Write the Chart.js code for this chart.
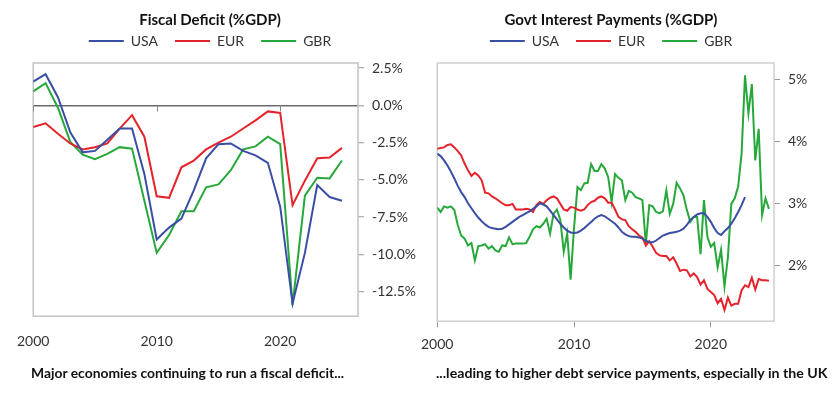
<!DOCTYPE html>
<html>
<head>
<meta charset="utf-8">
<script src="https://cdn.jsdelivr.net/npm/chart.js@4.4.1/dist/chart.umd.min.js"></script>
<style>
    body { margin: 0; background: #fff; }
    #wrap { position: relative; width: 840px; height: 394px; overflow: hidden; }
    .panel { position: absolute; top: 0; }
    .caption {
        position: absolute; top: 364px; white-space: nowrap;
        font-family: Lato, sans-serif; font-weight: bold; font-size: 14px; line-height: 17px;
        color: #111; transform-origin: left center;
    }
</style>
</head>
<body>
<div id="wrap">
    <canvas id="deficitChart" class="panel" style="left:0" width="420" height="367"></canvas>
    <canvas id="interestChart" class="panel" style="left:412px" width="398" height="362"></canvas>
    <div class="caption" style="left:31px" data-width="313">Major economies continuing to run a fiscal deficit...</div>
    <div class="caption" style="left:436px" data-width="392">...leading to higher debt service payments, especially in the UK</div>
</div>
<script>
    // fiscal deficit, annual
    const years = [2000, 2001, 2002, 2003, 2004, 2005, 2006, 2007, 2008, 2009, 2010, 2011, 2012,
        2013, 2014, 2015, 2016, 2017, 2018, 2019, 2020, 2021, 2022, 2023, 2024, 2025];
    const usaDeficit = [1.6, 2.1, 0.55, -1.8, -3.15, -3.05, -2.3, -1.55, -1.55, -4.6, -9.0, -8.2, -7.6,
        -5.7, -3.55, -2.6, -2.55, -3.05, -3.35, -3.85, -6.8, -13.3, -9.9, -5.35, -6.15, -6.4];
    const eurDeficit = [-1.45, -1.2, -1.9, -2.55, -2.95, -2.8, -2.55, -1.55, -0.65, -2.1, -6.1, -6.2, -4.15,
        -3.7, -2.95, -2.5, -2.1, -1.55, -1.0, -0.4, -0.5, -6.7, -5.05, -3.55, -3.5, -2.85];
    const gbrDeficit = [0.95, 1.5, -0.15, -2.45, -3.3, -3.6, -3.25, -2.8, -2.9, -6.4, -9.9, -8.7, -7.1,
        -7.1, -5.5, -5.3, -4.35, -2.95, -2.75, -2.1, -2.6, -13.4, -6.05, -4.85, -4.9, -3.7];

    // interest payments, quarterly from 2000 Q1
    const quarters = Array.from({ length: 98 }, (_, i) => 2000 + i / 4);
    const usaInterest = [
        3.80, 3.76, 3.69, 3.61, 3.51, 3.40, 3.28, 3.18, 3.10, 3.00, 2.92, 2.84,
        2.77, 2.71, 2.66, 2.62, 2.60, 2.59, 2.58, 2.59, 2.62, 2.66, 2.70, 2.74,
        2.78, 2.81, 2.84, 2.87, 2.91, 2.95, 3.00, 2.98, 2.95, 2.88, 2.81, 2.74,
        2.67, 2.61, 2.56, 2.53, 2.52, 2.53, 2.56, 2.60, 2.65, 2.70, 2.75, 2.79,
        2.81, 2.79, 2.75, 2.71, 2.67, 2.61, 2.54, 2.50, 2.47, 2.46, 2.46, 2.45,
        2.43, 2.40, 2.37, 2.37, 2.40, 2.44, 2.48, 2.50, 2.52, 2.53, 2.54, 2.56,
        2.59, 2.65, 2.73, 2.78, 2.82, 2.84, 2.84, 2.78, 2.70, 2.60, 2.52, 2.49,
        2.55, 2.60, 2.67, 2.76, 2.86, 2.97, 3.10, null,
        null, null, null, null, null, null];
    const eurInterest = [
        3.88, 3.89, 3.90, 3.94, 3.95, 3.90, 3.84, 3.77, 3.64, 3.53, 3.44, 3.49,
        3.45, 3.37, 3.17, 3.16, 3.11, 3.08, 3.04, 3.00, 2.97, 2.97, 2.99, 2.90,
        2.90, 2.90, 2.91, 2.90, 2.86, 2.97, 3.02, 2.99, 3.05, 3.09, 3.11, 3.08,
        2.99, 2.90, 2.88, 2.94, 2.93, 2.90, 2.88, 2.90, 2.97, 3.02, 3.04, 3.09,
        3.11, 3.08, 3.01, 3.01, 2.90, 2.78, 2.74, 2.73, 2.63, 2.58, 2.54, 2.48,
        2.45, 2.32, 2.39, 2.30, 2.20, 2.16, 2.15, 2.15, 2.08, 2.13, 2.03, 1.91,
        1.93, 1.92, 1.82, 1.87, 1.81, 1.69, 1.76, 1.62, 1.57, 1.52, 1.39, 1.46,
        1.28, 1.48, 1.35, 1.38, 1.38, 1.60, 1.68, 1.65, 1.80, 1.61, 1.78, 1.76,
        1.76, 1.75];
    const gbrInterest = [
        2.93, 2.86, 2.95, 2.93, 2.95, 2.89, 2.65, 2.48, 2.43, 2.32, 2.36, 2.08,
        2.31, 2.32, 2.34, 2.27, 2.31, 2.24, 2.22, 2.32, 2.31, 2.45, 2.34, 2.35,
        2.35, 2.35, 2.36, 2.46, 2.58, 2.63, 2.61, 2.67, 2.75, 2.51, 2.83, 2.90,
        2.73, 2.22, 2.51, 1.77, 2.60, 3.26, 3.21, 3.32, 3.33, 3.63, 3.52, 3.52,
        3.63, 3.56, 3.42, 3.02, 3.47, 3.41, 3.37, 3.05, 3.20, 3.17, 3.10, 3.08,
        3.05, 2.34, 2.97, 2.95, 2.86, 2.84, 2.87, 3.21, 2.83, 2.99, 3.33, 3.24,
        3.13, 2.89, 2.70, 2.78, 2.78, 2.18, 3.05, 2.46, 2.30, 2.36, 1.97, 2.25,
        1.66, 2.13, 2.99, 3.08, 3.27, 3.80, 5.06, 4.45, 4.92, 3.69, 4.20, 2.81,
        3.08, 2.91];

    const yearTicks = [2000, 2010, 2020];
    const deficitTicks = [2.5, 0, -2.5, -5, -7.5, -10, -12.5];
    const interestTicks = [2, 3, 4, 5];
    const seriesNames = ['USA', 'EUR', 'GBR'];
    const seriesColors = ['#3a4ea5', '#e5232b', '#27a83b'];

    const tickFont = { family: 'Lato', size: 14 };

    function points(xs, ys) {
        return ys.map((y, i) => ({ x: xs[i], y: y }));
    }

    function makeDatasets(xs, lists) {
        return lists.map((ys, i) => ({
            label: seriesNames[i],
            data: points(xs, ys),
            borderColor: seriesColors[i],
            backgroundColor: seriesColors[i],
            borderWidth: 2,
            pointRadius: 0,
            tension: 0,
            spanGaps: false
        }));
    }

    // frame round the plot area
    const plotBox = {
        id: 'plotBox',
        beforeDatasetsDraw(chart, args, opts) {
            const { ctx, chartArea: a } = chart;
            ctx.save();
            ctx.strokeStyle = opts.color;
            ctx.lineWidth = opts.width;
            ctx.strokeRect(a.left, a.top, a.right - a.left, a.bottom - a.top);
            ctx.restore();
        }
    };

    // little year ticks hanging from the zero line (deficit chart)
    const zeroTicks = {
        id: 'zeroTicks',
        beforeDatasetsDraw(chart) {
            const { ctx, scales: { x, y } } = chart;
            const y0 = y.getPixelForValue(0);
            ctx.save();
            ctx.strokeStyle = '#8a8a8a';
            ctx.lineWidth = 1;
            yearTicks.forEach(v => {
                const px = Math.round(x.getPixelForValue(v)) + 0.5;
                ctx.beginPath();
                ctx.moveTo(px, y0);
                ctx.lineTo(px, y0 + 6);
                ctx.stroke();
            });
            ctx.restore();
        }
    };

    // a bit more room between legend and plot
    const legendGap = {
        id: 'legendGap',
        beforeInit(chart) {
            const fit = chart.legend.fit;
            chart.legend.fit = function () {
                fit.call(this);
                this.height += 5;
            };
        }
    };

    function commonPlugins(title, boxColor) {
        return {
            title: {
                display: true,
                text: title,
                color: '#111',
                font: { family: 'Lato', size: 15, weight: 'bold' },
                padding: { top: 11, bottom: -12 }
            },
            legend: {
                labels: {
                    usePointStyle: true,
                    pointStyle: 'line',
                    pointStyleWidth: 35,
                    color: '#333',
                    font: tickFont,
                    padding: 17
                }
            },
            tooltip: { enabled: false },
            plotBox: { color: boxColor, width: 1.5 }
        };
    }

    new Chart(document.getElementById('deficitChart'), {
        type: 'line',
        data: { datasets: makeDatasets(years, [usaDeficit, eurDeficit, gbrDeficit]) },
        plugins: [plotBox, zeroTicks, legendGap],
        options: {
            responsive: false,
            animation: false,
            plugins: commonPlugins('Fiscal Deficit (%GDP)', '#c4c4c4'),
            scales: {
                x: {
                    type: 'linear', min: 2000, max: 2026.3,
                    afterBuildTicks: s => { s.ticks = yearTicks.map(v => ({ value: v })); },
                    ticks: { font: tickFont, color: '#333', padding: 17, maxRotation: 0, callback: v => String(v) },
                    grid: { display: false, drawTicks: false },
                    border: { display: false }
                },
                y: {
                    position: 'right', min: -14.15, max: 2.85,
                    afterBuildTicks: s => { s.ticks = deficitTicks.map(v => ({ value: v })); },
                    afterFit: s => { s.width = 62; },
                    ticks: { font: tickFont, color: '#333', padding: 8, callback: v => v.toFixed(1) + '%' },
                    grid: {
                        color: c => (c.tick && c.tick.value === 0) ? '#6a6a6a' : 'rgba(0,0,0,0)',
                        lineWidth: 1.5,
                        tickColor: '#999', tickLength: 6, tickWidth: 1
                    },
                    border: { display: false }
                }
            }
        }
    });

    new Chart(document.getElementById('interestChart'), {
        type: 'line',
        data: { datasets: makeDatasets(quarters, [usaInterest, eurInterest, gbrInterest]) },
        plugins: [plotBox, legendGap],
        options: {
            responsive: false,
            animation: false,
            plugins: commonPlugins('Govt Interest Payments (%GDP)', '#cfcfcf'),
            scales: {
                x: {
                    type: 'linear', min: 2000, max: 2024.62,
                    afterBuildTicks: s => { s.ticks = yearTicks.map(v => ({ value: v })); },
                    ticks: { font: tickFont, color: '#333', padding: 9, maxRotation: 0, callback: v => String(v) },
                    grid: { drawOnChartArea: false, tickColor: '#999', tickLength: 6, tickWidth: 1 },
                    border: { display: false }
                },
                y: {
                    position: 'right', min: 1.1, max: 5.26,
                    afterBuildTicks: s => { s.ticks = interestTicks.map(v => ({ value: v })); },
                    afterFit: s => { s.width = 36; },
                    ticks: { font: tickFont, color: '#333', padding: 8, callback: v => v + '%' },
                    grid: { drawOnChartArea: false, tickColor: '#999', tickLength: 6, tickWidth: 1 },
                    border: { display: false }
                }
            }
        }
    });

    // squeeze the captions to the condensed width of the original
    document.querySelectorAll('.caption').forEach(el => {
        const target = Number(el.dataset.width);
        el.style.transform = 'scaleX(' + (target / el.offsetWidth) + ')';
    });
</script>
</body>
</html>
